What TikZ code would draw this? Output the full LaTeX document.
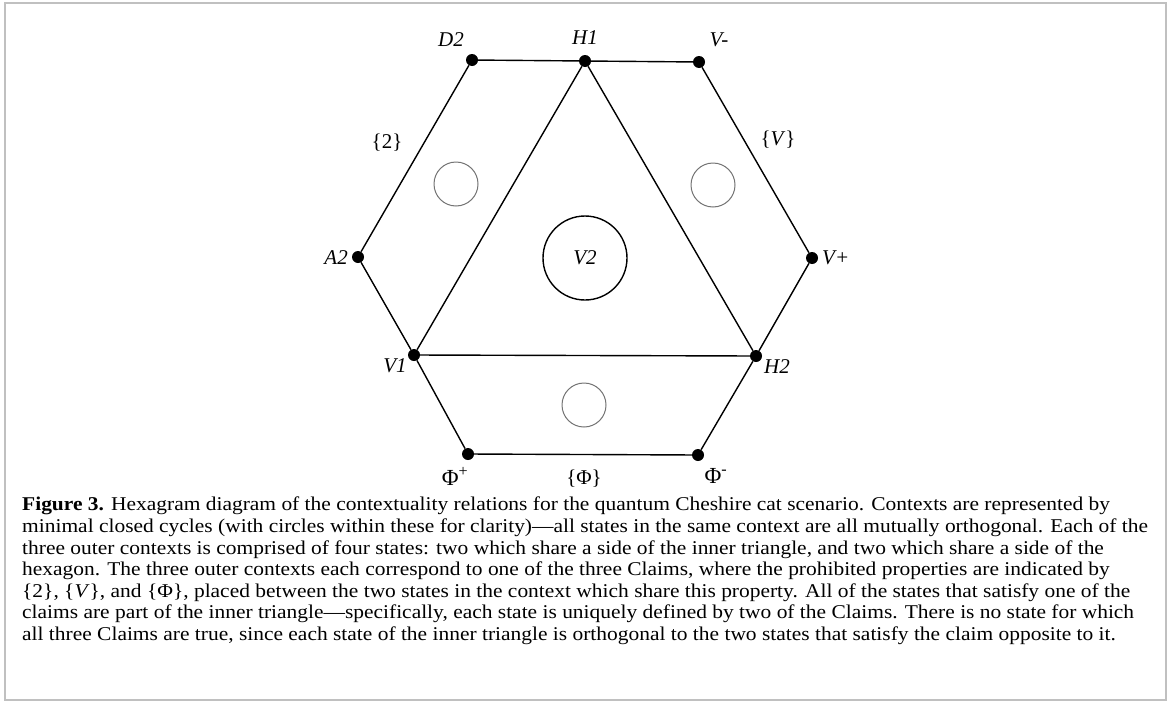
\documentclass[tikz,border=0pt]{standalone}
\usepackage{fontspec}
\setmainfont{Liberation Serif}
\newfontfamily\capfont[FakeStretch=1.1]{Liberation Serif}
\definecolor{framegray}{RGB}{192,192,192}
\definecolor{ringgray}{RGB}{115,115,115}
\tikzset{
  state/.style={circle,fill=black,inner sep=0pt,minimum size=12pt},
  lbl/.style={font=\fontsize{21}{24}\selectfont\itshape,inner sep=0pt},
  prop/.style={font=\fontsize{21}{24}\selectfont,inner sep=0pt},
  phi/.style={font=\fontsize{23}{26}\selectfont,inner sep=0pt},
  ctx/.style={circle,draw=ringgray,line width=1pt,inner sep=0pt,minimum size=44pt},
  edge/.style={line width=1.4pt}
}
\begin{document}
\begin{tikzpicture}[x=1pt,y=-1pt]
\useasboundingbox (0,0) rectangle (1174,704);
% ---- RAMKA ----
\draw[framegray,line width=2pt] (5,3) rectangle (1166,700);
% ---- STANY ----
\node[state] (D2) at (472,60) {};
\node[state] (H1) at (585,61) {};
\node[state] (Vm) at (699,62) {};
\node[state] (A2) at (358,257) {};
\node[state] (Vp) at (812,258) {};
\node[state] (V1) at (414,355) {};
\node[state] (H2) at (756,356) {};
\node[state] (Pp) at (468,454) {};
\node[state] (Pm) at (698,455) {};
% ---- SZESCIOKAT I TROJKAT ----
\draw[edge] (D2) -- (H1) -- (Vm) -- (Vp) -- (H2) -- (Pm) -- (Pp) -- (V1) -- (A2) -- (D2);
\draw[edge] (H1) -- (V1) -- (H2) -- (H1);
% ---- KONTEKSTY ----
\node[ctx] (cL) at (456,184) {};
\node[ctx] (cR) at (713,185) {};
\node[ctx] (cB) at (584,405) {};
\node[circle,draw,line width=1.4pt,minimum size=84pt,inner sep=0pt,font=\fontsize{21}{24}\selectfont\itshape] (V2) at (585,258) {V2};
% ---- ETYKIETY ----
\node[lbl] (tD2) at (451,40) {D2};
\node[lbl] (tH1) at (585,38) {H1};
\node[lbl] (tVm) at (719,40) {V-};
\node[lbl,anchor=east] (tA2) at (348,258) {A2};
\node[lbl,anchor=west] (tVp) at (822,258) {V+};
\node[lbl] (tV1) at (395,366) {V1};
\node[lbl] (tH2) at (777,367) {H2};
\node[phi] (tPp) at (455,476) {Φ\textsuperscript{+}};
\node[phi] (tPm) at (716,476) {Φ\textsuperscript{-}};
\node[prop] (p2) at (387,143) {\{2\}};
\node[prop] (pV) at (778,140) {\{\textit{V}\}};
\node[prop] (pP) at (584,479) {\{Φ\}};
% ---- PODPIS ----
\node[anchor=north west,inner sep=0pt,align=left,font=\capfont\fontsize{19.5}{21.55}\selectfont] (cap) at (22,497) {%
\textbf{Figure 3.} Hexagram diagram of the contextuality relations for the quantum Cheshire cat scenario. Contexts are represented by\\
minimal closed cycles (with circles within these for clarity)—all states in the same context are all mutually orthogonal. Each of the\\
three outer contexts is comprised of four states: two which share a side of the inner triangle, and two which share a side of the\\
hexagon. The three outer contexts each correspond to one of the three Claims, where the prohibited properties are indicated by\\
\{2\}, \{\textit{V}\}, and \{Φ\}, placed between the two states in the context which share this property. All of the states that satisfy one of the\\
claims are part of the inner triangle—specifically, each state is uniquely defined by two of the Claims. There is no state for which\\
all three Claims are true, since each state of the inner triangle is orthogonal to the two states that satisfy the claim opposite to it.};
\end{tikzpicture}
\end{document}
